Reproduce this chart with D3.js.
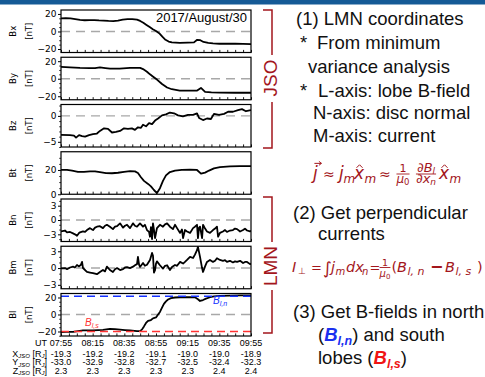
<!DOCTYPE html>
<html>
<head>
<meta charset="utf-8">
<script src="https://cdn.jsdelivr.net/npm/d3@7"></script>
<style>
  body { margin: 0; background: #fff; }
  svg { display: block; }
  text { white-space: pre; }
</style>
</head>
<body>
<svg id="chart" width="485" height="377"></svg>
<script>
// minutes after 07:55 UT, value in nT
const bx = [[0,15],[3,15.2],[6,15],[9,14.2],[12,13.2],[15,12.8],[18,13],[21,13],[24,12.6],[27,12.4],[30,12],[33,11.8],[36,12.4],[39,13.6],[42,14],[45,14.2],[48,13.5],[50,12],[52,10],[54,7.5],[56,5],[58,2.5],[60,0.5],[62,-2],[64,-6],[66,-9.5],[68,-11.5],[70,-12.5],[75,-13],[80,-12.8],[84,-12.5],[86,-9.5],[88,-10],[90,-12],[93,-13],[96,-13.5],[100,-14],[105,-14],[110,-14],[115,-14.2],[120,-14.5]];
const by = [[0,13.5],[5.7,13],[12,12.3],[18,12],[21.5,12.2],[24.6,13],[28,12.2],[31,11.5],[37,11.6],[43.6,12.3],[50,12.3],[51.8,11],[54.3,8],[56.2,5],[58,2.5],[60.6,-1],[63.8,-6],[67,-10],[70,-12],[75,-13.5],[80,-13.6],[86,-13.5],[88.4,-10.5],[91,-15],[95,-15.5],[100,-15.8],[110,-16],[120,-16]];
const bz = [[0,-3.65],[5.7,-3.7],[8.2,-3.8],[9.5,-4.2],[11.4,-3.7],[13.3,-3.9],[15.2,-4],[17.7,-3.7],[20.2,-3.5],[22.7,-3.4],[24.6,-2.9],[27.2,-2.4],[29.7,-2.5],[32.2,-3.2],[34.7,-3.1],[37.3,-2.9],[39.8,-2.4],[42.3,-2.5],[44.8,-2.4],[46.7,-2.7],[48.6,-2.2],[50.5,-2.3],[51.8,-1.7],[53.7,-2],[55.6,-1.4],[57.5,-1.6],[59.4,-0.9],[61.3,-0.5],[63.8,0.1],[66.3,0.3],[68.8,0.65],[71.4,0.5],[73.9,0.1],[77,-0.1],[80.2,0.2],[83.4,0.2],[85.9,0.5],[87.2,-0.4],[89.7,-0.8],[92.2,-0.5],[94.7,-0.6],[96.6,0.4],[99.8,0.2],[103,0.4],[105.5,0.8],[108.6,0.8],[111.8,1.1],[114.3,1.3],[116.8,0.9],[120,1.1]];
const bt = [[0,20],[3.8,20],[7,19.4],[10.7,18.5],[14.5,18.4],[18.3,18.8],[21.5,18.9],[24.6,18.3],[28.4,17.4],[32.2,17.3],[36,17.7],[39.8,18.5],[43.6,19],[46.7,18.8],[48.6,17.5],[50.5,14],[52.4,11],[55,8.5],[56.8,6.5],[58.7,3.5],[60.6,1],[62.5,5],[64.4,11],[66.3,15.5],[68.8,18.3],[72,19.5],[76.3,20],[81.4,20.3],[85.9,20],[88.4,17],[91,17.8],[93.5,19.5],[96.6,21.3],[100.4,22.3],[106.7,22.9],[113,23.1],[120,23.2]];
const bn = [[0,-2.4],[2.5,-2.2],[3.8,-2.6],[5.7,-2.5],[7.6,-2.8],[8.8,-3],[10.1,-3.3],[11.4,-2.7],[12,-2.6],[13.9,-2.4],[15.2,-2.5],[16.4,-2.1],[18.3,-1.7],[19.6,-2],[20.2,-2.1],[21.5,-1.6],[22.7,-1.4],[24.6,-1.3],[26.5,-1.7],[27.8,-1.2],[29,-1],[30.9,-1.4],[32.8,-1.9],[34.1,-1.4],[35.4,-1.3],[37.3,-0.7],[39.2,-1.6],[40.4,-1.2],[41.7,-1],[43.6,-1.7],[45.5,-0.7],[46.7,-1.2],[48,-1.4],[49.9,-0.7],[51.8,-1.4],[53,-1],[54.3,-2.1],[55.6,-2.5],[56.2,-3.5],[56.8,-1.5],[57.5,-4],[58.1,-0.7],[58.7,-2],[59.4,-3.8],[60.6,-1.7],[62.5,-1],[64.4,-1.4],[65.7,-0.9],[67,-0.7],[68.8,-1.4],[70.7,-1.9],[72,-1],[73.3,-1.7],[75.2,-2.7],[76.4,-2],[77.1,-3.8],[78.3,-2.1],[79.6,-2.4],[81.5,-2.7],[83.4,-1.7],[84.6,-1.4],[85.9,-1],[86.5,-3.8],[87.2,-1.6],[87.8,-1.4],[89.1,-3.8],[89.7,-1],[91,-1.8],[92.2,-2.4],[94.1,-2.7],[96,-2.1],[97.3,-1.8],[98.5,-1.4],[99.2,-3.5],[100.4,-2.7],[102.3,-2.4],[103.6,-2.1],[104.8,-2.5],[106.7,-2.2],[108.6,-2.1],[109.9,-1.8],[111.2,-1.9],[113.1,-2.4],[115,-2.1],[116.2,-1.8],[117.5,-2.2],[119.4,-2.4],[120,-2.2]];
const bm = [[0,-0.05],[2.5,0],[3.8,-0.2],[5.7,0.1],[7.6,0.25],[8.8,0.1],[10.1,0.55],[11.4,0.3],[12.6,0.6],[13.3,1.1],[13.9,0],[15.2,-0.35],[16.4,-0.7],[18.3,-0.8],[20.2,-0.9],[21.5,-1],[22.7,-1.1],[24.6,-0.7],[26.5,-0.35],[27.8,-0.6],[29,0.25],[30.9,-0.35],[32.8,-0.7],[34.1,-0.2],[35.4,0],[37.3,-0.35],[39.2,-0.2],[40.4,0.1],[41.7,0.15],[43.6,0],[45.5,0.25],[46.7,0.5],[48,0.7],[48.6,2],[49.3,0.6],[49.9,0.2],[51.8,0.9],[53,0.4],[54.3,0.6],[56.2,1.45],[57.5,2.7],[58.1,2.2],[58.7,-0.8],[59.4,-0.35],[60,0.8],[60.6,1.2],[62.5,0.5],[64.4,-0.1],[65.7,0.4],[67,0.5],[68.8,-0.35],[70.1,0.2],[72,0.55],[73.3,0.4],[75.2,1.1],[77.1,0.8],[78.3,1.1],[79.6,1.45],[81.5,2],[83.4,1.8],[84.6,2.4],[85.9,3.2],[86.5,3.8],[87.8,2],[89.1,0],[89.7,-0.7],[91,0.3],[92.2,1.1],[94.1,1.45],[96,1.1],[97.3,1.3],[98.5,1.75],[100.4,1.45],[102.3,1.3],[103.6,1.4],[104.8,1.1],[106.7,1.3],[108.6,1],[109.9,1.2],[111.2,1.1],[113.1,1.3],[115,0.9],[116.2,1.1],[117.5,1.1],[119.4,0.7],[120,0.8]];
const bl = [[0,-20.6],[3.2,-20.5],[7.6,-20.4],[10.7,-19.5],[13.9,-18.8],[20.2,-18.7],[23.4,-18.4],[26.5,-18],[30.9,-17],[34.1,-17.2],[37.3,-17.8],[40.4,-18.3],[43.6,-18.8],[48,-19.6],[49.9,-19.5],[51.2,-17.5],[52.4,-14],[53.7,-10],[55,-7.5],[56.8,-6.5],[58.1,-4.5],[60,-3.5],[61.3,0],[62.5,3],[63.8,8],[65,12.5],[66.3,15.5],[67.6,17.6],[69.5,19.2],[72,20],[75.2,20.3],[81.5,20.4],[84.6,20.2],[86.5,18],[87.8,15.9],[89.7,17],[91.6,18.6],[94.1,20.3],[96.6,21.3],[100.4,22],[106.7,22.3],[113.1,22.4],[120,22.4]];

const blNorth = 21.5;
const blSouth = -20;

const fieldTicks = [20, 0, -20];
const bzTicks = [0, -5];
const btTicks = [20, 0];
const lmnTicks = [3, 0, -3];

const timeTicks = ['07:55', '08:15', '08:35', '08:55', '09:15', '09:35', '09:55'];
const xJso = ['-19.3', '-19.2', '-19.2', '-19.1', '-19.0', '-19.0', '-18.9'];
const yJso = ['-33.0', '-32.9', '-32.8', '-32.7', '-32.5', '-32.4', '-32.3'];
const zJso = ['2.3', '2.3', '2.3', '2.3', '2.3', '2.4', '2.4'];

const panels = [
  { name: 'Bx', data: bx, domain: [-24, 24.5], ticks: fieldTicks, minor: 5, zero: true },
  { name: 'By', data: by, domain: [-24, 24.5], ticks: fieldTicks, minor: 5, zero: true },
  { name: 'Bz', data: bz, domain: [-6, 2.2], ticks: bzTicks, minor: 1, zero: true },
  { name: 'Bt', data: bt, domain: [0, 35], ticks: btTicks, minor: 5, zero: false },
  { name: 'Bn', data: bn, domain: [-4.5, 4.4], ticks: lmnTicks, minor: 1, zero: true },
  { name: 'Bm', data: bm, domain: [-3.7, 3.9], ticks: lmnTicks, minor: 1, zero: true },
  { name: 'Bl', data: bl, domain: [-25.3, 24.7], ticks: fieldTicks, minor: 5, zero: true }
];

const X0 = 61, X1 = 251;
const TOP = 10, STEP = 47.25, PH = 42.5;
const DARKRED = '#a3161c';
const SANS = 'Liberation Sans, Arial, sans-serif';
const DJV = 'DejaVu Sans, sans-serif';

const toMin = s => { const [h, m] = s.split(':').map(Number); return h * 60 + m - (7 * 60 + 55); };
const fmt = d => d < 0 ? '\u2212' + Math.abs(d) : String(d);

const svg = d3.select('#chart');

svg.append('rect').attr('x', 0).attr('y', 0).attr('width', 485).attr('height', 4.5).attr('fill', '#155a96');

const x = d3.scaleLinear().domain([0, 120]).range([X0, X1]);
const majorT = timeTicks.map(toMin);
const minorT = d3.range(0, 121, 5);

panels.forEach((p, i) => {
  const top = TOP + i * STEP;
  const y = d3.scaleLinear().domain(p.domain).range([top + PH, top]);
  const g = svg.append('g');

  g.append('clipPath').attr('id', 'clip' + i)
    .append('rect').attr('x', X0).attr('y', top).attr('width', X1 - X0).attr('height', PH);

  if (p.zero) {
    g.append('line')
      .attr('x1', X0).attr('x2', X1).attr('y1', y(0)).attr('y2', y(0))
      .attr('stroke', '#a8a8a8').attr('stroke-width', 1.4).attr('stroke-dasharray', '9,6');
  }

  g.append('path').datum(p.data)
    .attr('clip-path', `url(#clip${i})`)
    .attr('d', d3.line().x(d => x(d[0])).y(d => y(d[1])))
    .attr('fill', 'none').attr('stroke', '#000').attr('stroke-width', 1.8).attr('stroke-linejoin', 'round');

  if (p.name === 'Bl') {
    g.append('line').attr('x1', X0).attr('x2', X1).attr('y1', y(blNorth)).attr('y2', y(blNorth))
      .attr('stroke', '#1430ff').attr('stroke-width', 1.6).attr('stroke-dasharray', '8,5');
    g.append('line').attr('x1', X0).attr('x2', X1).attr('y1', y(blSouth)).attr('y2', y(blSouth))
      .attr('stroke', '#ff3232').attr('stroke-width', 1.6).attr('stroke-dasharray', '8,5');
    g.append('text').attr('x', 85).attr('y', y(blSouth) - 5).attr('fill', '#ff3232')
      .attr('font-family', SANS).attr('font-style', 'italic').attr('font-size', 10)
      .call(t => { t.append('tspan').text('B'); t.append('tspan').attr('font-size', 7).attr('dy', 2).text('l,s'); });
    g.append('text').attr('x', 213).attr('y', y(blNorth) + 8).attr('fill', '#1430ff')
      .attr('font-family', SANS).attr('font-style', 'italic').attr('font-size', 10)
      .call(t => { t.append('tspan').text('B'); t.append('tspan').attr('font-size', 7).attr('dy', 2).text('l,n'); });
  }

  g.append('rect').attr('x', X0).attr('y', top).attr('width', X1 - X0).attr('height', PH)
    .attr('fill', 'none').attr('stroke', '#000').attr('stroke-width', 1.2);

  // y axis
  const ga = g.append('g').attr('transform', `translate(${X0},0)`)
    .call(d3.axisLeft(y).tickValues(p.ticks).tickSize(3).tickPadding(1.5).tickFormat(fmt));
  ga.attr('font-family', DJV).attr('font-size', 9);
  ga.select('.domain').remove();
  ga.selectAll('line').attr('stroke', '#000').attr('stroke-width', 1);
  ga.selectAll('text').attr('fill', '#000');

  const lo = Math.ceil(p.domain[0] / p.minor) * p.minor;
  const minorY = d3.range(lo, p.domain[1], p.minor).filter(v => !p.ticks.includes(v));
  g.append('g').attr('transform', `translate(${X0},0)`)
    .call(d3.axisLeft(y).tickValues(minorY).tickSize(1.8).tickFormat(''))
    .call(a => a.select('.domain').remove())
    .selectAll('line').attr('stroke', '#000').attr('stroke-width', 0.8);

  // inward x ticks
  g.append('g').attr('transform', `translate(0,${top + PH})`)
    .call(d3.axisBottom(x).tickValues(minorT).tickSize(-2.6).tickFormat(''))
    .call(a => a.select('.domain').remove())
    .selectAll('line').attr('stroke', '#000').attr('stroke-width', 0.9);

  // y labels
  const cy = top + PH / 2;
  g.append('text').attr('transform', `translate(13,${cy}) rotate(-90)`)
    .attr('text-anchor', 'middle').attr('dy', '0.35em')
    .attr('font-family', DJV).attr('font-size', 8.5).text(p.name);
  g.append('text').attr('transform', `translate(29,${cy}) rotate(-90)`)
    .attr('text-anchor', 'middle').attr('dy', '0.35em')
    .attr('font-family', DJV).attr('font-size', 8.5).text('[nT]');
});

svg.append('text').attr('x', 247).attr('y', 22).attr('text-anchor', 'end')
  .attr('font-family', SANS).attr('font-size', 13).text('2017/August/30');

// orbit table below the panels
const rows = [
  { lab: null, vals: timeTicks, y: 346 },
  { lab: 'X', vals: xJso, y: 356.5 },
  { lab: 'Y', vals: yJso, y: 365 },
  { lab: 'Z', vals: zJso, y: 373.5 }
];
rows.forEach(r => {
  const t = svg.append('text').attr('x', 47).attr('y', r.y).attr('text-anchor', 'end')
    .attr('font-family', SANS).attr('font-size', 9);
  if (!r.lab) {
    t.text('UT');
  } else {
    t.append('tspan').text(r.lab);
    t.append('tspan').attr('font-size', 6).attr('font-style', 'italic').attr('dy', 1.6).text('JSO');
    t.append('tspan').attr('dy', -1.6).text(' [R');
    t.append('tspan').attr('font-size', 6).attr('font-style', 'italic').attr('dy', 1.6).text('J');
    t.append('tspan').attr('dy', -1.6).text(']');
  }
  svg.append('g').selectAll('text').data(r.vals).join('text')
    .attr('x', (d, k) => x(majorT[k])).attr('y', r.y).attr('text-anchor', 'middle')
    .attr('font-family', SANS).attr('font-size', 9).text(d => d);
});

// JSO / LMN brackets
function bracket(y0, y1, gapA, gapB, label, cy) {
  const bx0 = 263, bx1 = 272;
  svg.append('path')
    .attr('d', `M${bx0},${y0}H${bx1}V${gapA}M${bx1},${gapB}V${y1}H${bx0}`)
    .attr('fill', 'none').attr('stroke', DARKRED).attr('stroke-width', 1.5);
  svg.append('text').attr('transform', `translate(277,${cy}) rotate(-90)`)
    .attr('text-anchor', 'middle').attr('font-family', SANS).attr('font-size', 19)
    .attr('fill', DARKRED).text(label);
}
bracket(10, 148, 55, 102, 'JSO', 78);
bracket(197, 333, 242, 290, 'LMN', 266);

// notes
const notes = [
  { x: 296, y: 25, t: '(1) LMN coordinates' },
  { x: 300, y: 49, t: '*' },
  { x: 317, y: 49, t: 'From minimum' },
  { x: 308, y: 73, t: 'variance analysis' },
  { x: 300, y: 97, t: '*' },
  { x: 318, y: 97, t: 'L-axis: lobe B-field' },
  { x: 313, y: 119, t: 'N-axis: disc normal' },
  { x: 313, y: 142, t: 'M-axis: current' },
  { x: 293, y: 219, t: '(2) Get perpendicular' },
  { x: 318, y: 240, t: 'currents' },
  { x: 293, y: 318, t: '(3) Get B-fields in north' }
];
svg.append('g').selectAll('text').data(notes).join('text')
  .attr('x', d => d.x).attr('y', d => d.y)
  .attr('font-family', SANS).attr('font-size', 18.5).attr('fill', '#111').text(d => d.t);

function lobeLine(xp, yp, pre, sub, post, col) {
  const t = svg.append('text').attr('x', xp).attr('y', yp)
    .attr('font-family', SANS).attr('font-size', 18.5).attr('fill', '#111');
  t.append('tspan').text(pre);
  t.append('tspan').attr('fill', col).attr('font-weight', 'bold').attr('font-style', 'italic').text('B');
  t.append('tspan').attr('fill', col).attr('font-weight', 'bold').attr('font-style', 'italic')
    .attr('font-size', 12.5).attr('dy', 4).text(sub);
  t.append('tspan').attr('dy', -4).text(post);
}
lobeLine(318, 341, '(', 'l,n', ') and south', '#1a30f0');
lobeLine(318, 364, 'lobes (', 'l,s', ')', '#f01414');

// formulas: every piece placed at its own x, fractions centred on cx
function piece(g, p, base, color) {
  const t = g.append('text').attr('x', p.x).attr('y', base + (p.dy || 0))
    .attr('font-family', DJV).attr('font-size', p.size)
    .attr('font-style', p.it ? 'italic' : null).attr('font-weight', p.b ? 'bold' : null)
    .attr('fill', color).text(p.t);
  const w = t.node().getComputedTextLength();
  if (p.over === 'arrow') {
    const ay = base - p.size * 0.92, ax = p.x + w * 0.3;
    g.append('path').attr('d', `M${ax},${ay}h7m-2.5,-2l2.5,2l-2.5,2`)
      .attr('fill', 'none').attr('stroke', color).attr('stroke-width', 1);
  }
  if (p.over === 'hat') {
    const hy = base - p.size * 0.66, hx = p.x + w * 0.55;
    g.append('path').attr('d', `M${hx - 3},${hy}l3,-3l3,3`)
      .attr('fill', 'none').attr('stroke', color).attr('stroke-width', 1);
  }
  return w;
}
function runWidth(g, parts, base, color) {
  let cx = 0;
  parts.forEach(q => { cx += piece(g, Object.assign({}, q, { x: cx }), base, color); });
  return cx;
}
function typeset(g, base, parts, color) {
  parts.forEach(p => {
    if (p.num) {
      const gn = g.append('g'), gd = g.append('g');
      const wn = runWidth(gn, p.num, 0, color), wd = runWidth(gd, p.den, 0, color);
      const w = Math.max(wn, wd);
      gn.attr('transform', `translate(${p.cx - wn / 2},${base + p.numY})`);
      gd.attr('transform', `translate(${p.cx - wd / 2},${base + p.denY})`);
      g.append('line').attr('x1', p.cx - w / 2).attr('x2', p.cx + w / 2)
        .attr('y1', base + p.barY).attr('y2', base + p.barY)
        .attr('stroke', color).attr('stroke-width', 0.9);
    } else {
      piece(g, p, base, color);
    }
  });
}

typeset(svg.append('g'), 179, [
  { x: 313, t: 'j', size: 17, it: true, over: 'arrow' },
  { x: 323, t: '\u2248', size: 14 },
  { x: 339, t: 'j', size: 17, it: true },
  { x: 343.5, t: 'm', size: 12, it: true, dy: 3.5 },
  { x: 354, t: 'x', size: 17, it: true, over: 'hat' },
  { x: 364.5, t: 'm', size: 12, it: true, dy: 3.5 },
  { x: 379, t: '\u2248', size: 14 },
  { cx: 403, num: [{ t: '1', size: 11 }], den: [{ t: '\u03bc', size: 12, it: true }, { t: '0', size: 8.5, dy: 2 }], numY: -6.7, denY: 4, barY: -5 },
  { cx: 426, num: [{ t: '\u2202B', size: 13, it: true }, { t: 'l', size: 9, it: true, dy: 2 }], den: [{ t: '\u2202x', size: 13, it: true }, { t: 'n', size: 9, it: true, dy: 2 }], numY: -7, denY: 4, barY: -5 },
  { x: 439, t: 'x', size: 17, it: true, over: 'hat' },
  { x: 449.5, t: 'm', size: 12, it: true, dy: 3.5 }
], DARKRED);

typeset(svg.append('g'), 272, [
  { x: 292, t: 'I', size: 14.5, it: true },
  { x: 298, t: '\u22a5', size: 9, dy: 2 },
  { x: 311, t: '=', size: 13 },
  { x: 323, t: '\u222b', size: 17, dy: 1.5 },
  { x: 331, t: 'j', size: 14.5, it: true },
  { x: 335.5, t: 'm', size: 10, it: true, dy: 3 },
  { x: 346, t: 'dx', size: 14.5, it: true },
  { x: 362, t: 'n', size: 10, it: true, dy: 3 },
  { x: 369.5, t: '=', size: 13 },
  { cx: 385, num: [{ t: '1', size: 9.5 }], den: [{ t: '\u03bc', size: 10, it: true }, { t: '0', size: 7, dy: 2 }], numY: -6, denY: 4.5, barY: -4.5 },
  { x: 391.5, t: '(', size: 14.5 },
  { x: 397, t: 'B', size: 14.5, it: true },
  { x: 407.5, t: 'l, n', size: 11, it: true, dy: 3 },
  { x: 430, t: '\u2212', size: 16, b: true },
  { x: 445, t: 'B', size: 14.5, it: true },
  { x: 455.5, t: 'l, s', size: 11, it: true, dy: 3 },
  { x: 477, t: ')', size: 14.5 }
], DARKRED);
</script>
</body>
</html>
